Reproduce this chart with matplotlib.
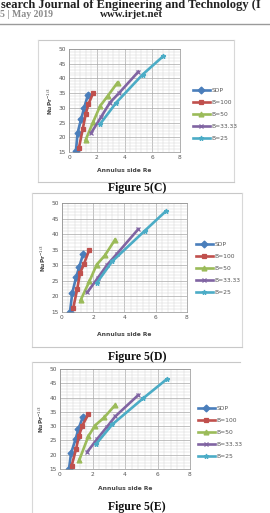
import matplotlib
matplotlib.use('Agg')
import matplotlib.pyplot as plt
from matplotlib.lines import Line2D
from matplotlib.ticker import MultipleLocator

# series names and styles (Excel defaults)
SERIES  = ['SDP', 'B=100', 'B=50', 'B=33.33', 'B=25']
COLORS  = ['#4a7ebb', '#c0504d', '#9bbb59', '#8064a2', '#4bacc6']
MARKERS = ['D', 's', '^', 'x', '*']

# Figure 5(C)
C_x = [[0.50, 0.62, 0.88, 1.08, 1.35],
       [0.72, 0.99, 1.20, 1.40, 1.76],
       [1.20, 1.75, 2.24, 2.80, 3.50],
       [1.60, 2.30, 2.95, 3.60, 5.00],
       [2.24, 3.41, 5.30, 6.80]]
C_y = [[15.4, 21.5, 26.3, 29.8, 34.2],
       [16.5, 22.8, 27.8, 31.3, 35.2],
       [19.1, 25.3, 30.6, 34.1, 38.6],
       [21.5, 26.8, 31.8, 35.0, 42.3],
       [24.5, 31.8, 41.3, 47.6]]

# Figure 5(D)
D_x = [[0.51, 0.66, 0.90, 1.09, 1.36],
       [0.72, 0.98, 1.15, 1.41, 1.75],
       [1.19, 1.75, 2.22, 2.75, 3.39],
       [1.62, 2.30, 2.90, 3.50, 4.88],
       [2.22, 3.22, 5.30, 6.63]]
D_y = [[15.0, 21.2, 26.1, 29.3, 33.7],
       [16.3, 22.5, 27.4, 30.5, 35.0],
       [18.8, 24.8, 30.2, 33.2, 38.2],
       [21.3, 26.0, 30.2, 33.6, 41.6],
       [24.3, 31.3, 41.1, 47.3]]

# Figure 5(E)
E_x = [[0.55, 0.68, 0.96, 1.13, 1.40],
       [0.72, 0.99, 1.17, 1.37, 1.74],
       [1.19, 1.74, 2.15, 2.73, 3.38],
       [1.68, 2.30, 2.90, 3.40, 4.82],
       [2.20, 3.22, 5.13, 6.56]]
E_y = [[14.9, 20.5, 25.5, 28.9, 33.1],
       [16.2, 22.0, 26.7, 30.2, 34.1],
       [18.2, 26.4, 30.2, 33.1, 37.3],
       [21.0, 25.6, 29.8, 33.4, 40.9],
       [23.6, 30.6, 39.8, 46.4]]

XTICKS = [0, 2, 4, 6, 8]
YTICKS = [15, 20, 25, 30, 35, 40, 45, 50]

W, H = 270, 513
fig = plt.figure(figsize=(W/100, H/100), dpi=100)

def fx(px):
    return px / W

def fy(py):
    return 1 - py / H

def hline(x0, x1, y, color='#c8c8c8', lw=0.8):
    fig.add_artist(Line2D([fx(x0), fx(x1)], [fy(y), fy(y)], color=color, lw=lw))

def vline(x, y0, y1, color='#d8d8d8', lw=0.8):
    fig.add_artist(Line2D([fx(x), fx(x)], [fy(y0), fy(y1)], color=color, lw=lw))

SERIF = 'Liberation Serif'

# page header
fig.text(fx(1), fy(5), 'search Journal of Engineering and Technology (I', fontsize=9,
         family=SERIF, weight='bold', va='center', ha='left', color='#222222')
fig.text(fx(0), fy(15), '5 | May 2019', fontsize=7, family=SERIF,
         weight='bold', va='center', ha='left', color='#8a8a8a')
fig.text(fx(100), fy(15), 'www.irjet.net', fontsize=7.8, family=SERIF,
         weight='bold', va='center', ha='left', color='#222222')
hline(0, 270, 24, color='#9a9a9a', lw=1.0)

def chart(box, axpos, leg_xy, xs, ys, xlab_y, caption, cap_y, closed=True):
    x0, y0, x1, y1 = box
    hline(x0, x1, y0)
    vline(x0, y0, y1)
    if closed:
        vline(x1, y0, y1)
        hline(x0, x1, y1)
    l, r, t, b = axpos
    ax = fig.add_axes([fx(l), fy(b), fx(r) - fx(l), fy(t) - fy(b)])
    for name, c, m, xv, yv in zip(SERIES, COLORS, MARKERS, xs, ys):
        ax.plot(xv, yv, color=c, lw=1.9, marker=m, ms=3.5, mew=0.9, label=name)
    ax.set_xlim(0, 8)
    ax.set_ylim(15, 50)
    ax.set_xticks(XTICKS)
    ax.set_yticks(YTICKS)
    ax.xaxis.set_minor_locator(MultipleLocator(0.4))
    ax.yaxis.set_minor_locator(MultipleLocator(1))
    ax.grid(True, which='major', color='#a8a8a8', lw=0.5)
    ax.grid(True, which='minor', color='#d4d4d4', lw=0.35)
    ax.set_axisbelow(True)
    ax.tick_params(which='both', length=0, labelsize=4.2, labelcolor='#555555', pad=2)
    for s in ax.spines.values():
        s.set_color('#909090')
        s.set_linewidth(0.5)
    ax.set_ylabel(r'NuPr$^{-1/3}$', fontsize=4.2, weight='bold', color='#444444', labelpad=3)
    fig.text(fx((l + r) / 2), fy(xlab_y), 'Annulus side Re', fontsize=4.3, weight='bold',
             color='#444444', ha='center', va='center')
    fig.legend(*ax.get_legend_handles_labels(), loc='upper left',
               bbox_to_anchor=(fx(leg_xy[0]), fy(leg_xy[1])), frameon=False,
               fontsize=4.3, labelspacing=1.15, handlelength=2.8, handletextpad=0.3,
               borderpad=0, labelcolor='#555555')
    fig.text(fx(137), fy(cap_y), caption, fontsize=8.5, family=SERIF,
             weight='bold', ha='center', va='center', color='#111111')

chart((38, 40, 234, 182), (69, 180, 49, 152), (190, 85), C_x, C_y, 170, 'Figure 5(C)', 188)
chart((32, 193, 242, 347), (62, 187, 203, 312), (193, 239), D_x, D_y, 335, 'Figure 5(D)', 357)
chart((32, 362, 240, 520), (60, 190, 369, 469), (195, 403), E_x, E_y, 489, 'Figure 5(E)', 507,
      closed=False)

plt.savefig('out.png', dpi=100)
